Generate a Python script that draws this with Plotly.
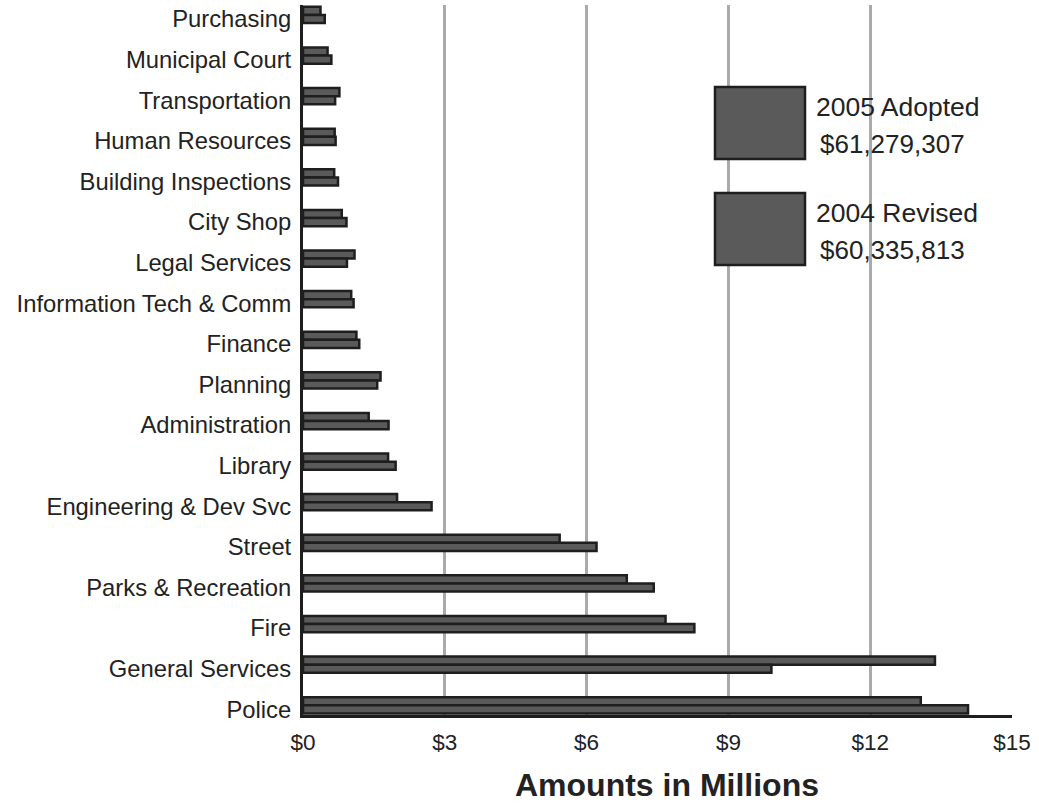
import plotly.graph_objects as go

# Departments, top to bottom
departments = [
    "Purchasing", "Municipal Court", "Transportation", "Human Resources",
    "Building Inspections", "City Shop", "Legal Services",
    "Information Tech & Comm", "Finance", "Planning", "Administration",
    "Library", "Engineering & Dev Svc", "Street", "Parks & Recreation",
    "Fire", "General Services", "Police",
]

# Budget amounts in millions of dollars
revised_2004 = [0.37, 0.52, 0.77, 0.67, 0.66, 0.82, 1.09, 1.02, 1.13,
                1.64, 1.39, 1.80, 1.99, 5.43, 6.85, 7.67, 13.37, 13.07]
adopted_2005 = [0.46, 0.60, 0.68, 0.69, 0.74, 0.92, 0.93, 1.07, 1.19,
                1.57, 1.81, 1.96, 2.72, 6.21, 7.42, 8.28, 9.91, 14.07]

x_ticks = [0, 3, 6, 9, 12, 15]
x_tick_text = ["$0", "$3", "$6", "$9", "$12", "$15"]

legend_items = [
    ("2005 Adopted", "$61,279,307"),
    ("2004 Revised", "$60,335,813"),
]

FONT = "Liberation Sans, Arial, Helvetica, sans-serif"
BAR_FILL = "#5a5a5a"
BAR_EDGE = "#1e1e1e"

fig = go.Figure()
fig.add_trace(go.Bar(
    y=departments, x=revised_2004, orientation="h", name="2004 Revised",
    marker=dict(color=BAR_FILL, line=dict(color=BAR_EDGE, width=2.5)),
))
fig.add_trace(go.Bar(
    y=departments, x=adopted_2005, orientation="h", name="2005 Adopted",
    marker=dict(color=BAR_FILL, line=dict(color=BAR_EDGE, width=2.5)),
))

fig.update_layout(
    width=1039, height=803,
    margin=dict(l=303, r=27, t=5, b=88),
    paper_bgcolor="white", plot_bgcolor="white",
    barmode="group", bargap=0.6, bargroupgap=0.0,
    showlegend=False,
    font=dict(family=FONT, color="#222222"),
)

fig.update_xaxes(
    range=[0, 15], tickvals=x_ticks, ticktext=x_tick_text,
    showgrid=True, gridcolor="#aaaaaa", gridwidth=3,
    zeroline=False, showline=True, linecolor=BAR_EDGE, linewidth=3,
    ticks="", tickfont=dict(size=22.5, family=FONT, color="#222222"),
    ticklabelstandoff=5,
)
fig.update_yaxes(
    type="category", categoryorder="array", categoryarray=departments,
    range=[17.24, -0.246],
    showgrid=False, zeroline=False, showline=True,
    linecolor=BAR_EDGE, linewidth=3,
    ticks="", tickfont=dict(size=23.8, family=FONT, color="#222222"),
    ticklabelstandoff=4, ticklabelshift=-4,
)

# Axis title
fig.add_annotation(
    text="<b>Amounts in Millions</b>", xref="paper", yref="paper",
    x=0.513, y=-0.099, xanchor="center", yanchor="middle", showarrow=False,
    font=dict(size=32, family=FONT, color="#222222"),
)

# Legend drawn as large swatches with two-line labels
box_tops = [87, 193]
box_h = 72
for (label, total), top in zip(legend_items, box_tops):
    fig.add_shape(
        type="rect", xref="paper", yref="paper",
        x0=(715 - 303) / 709, x1=(805 - 303) / 709,
        y0=(715 - (top + box_h)) / 710, y1=(715 - top) / 710,
        fillcolor=BAR_FILL, line=dict(color=BAR_EDGE, width=2.5),
        layer="above",
    )
    fig.add_annotation(
        text=label, xref="paper", yref="paper",
        x=(814 - 303) / 709, y=(715 - (top + 20)) / 710,
        xanchor="left", yanchor="middle", showarrow=False,
        font=dict(size=26.5, family=FONT, color="#222222"),
    )
    fig.add_annotation(
        text=total, xref="paper", yref="paper",
        x=(818 - 303) / 709, y=(715 - (top + 57)) / 710,
        xanchor="left", yanchor="middle", showarrow=False,
        font=dict(size=26, family=FONT, color="#222222"),
    )

fig.write_html("out.html")
